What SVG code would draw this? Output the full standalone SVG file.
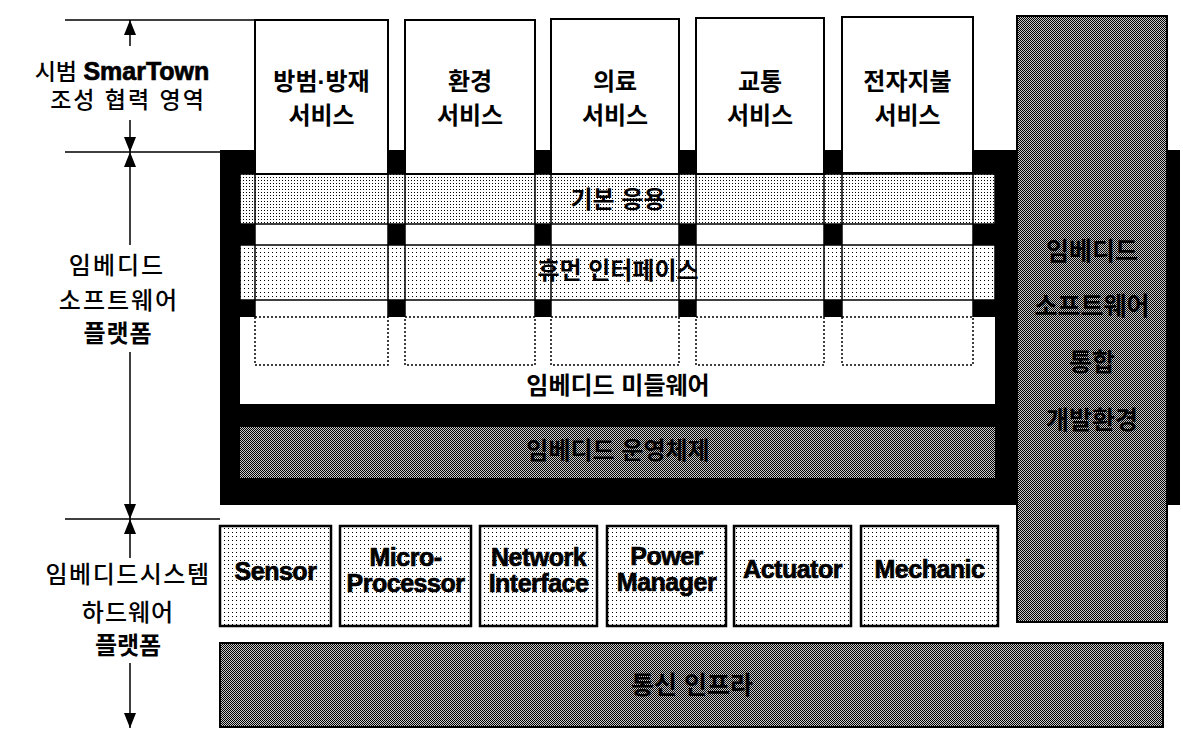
<svg xmlns="http://www.w3.org/2000/svg" width="1183" height="730" viewBox="0 0 1183 730">
<defs>
<pattern id="dk" width="2" height="2" patternUnits="userSpaceOnUse"><rect width="2" height="2" fill="#c8c8c8"/><rect width="1" height="1" fill="#000"/><rect x="1" y="1" width="1" height="1" fill="#000"/></pattern>
<pattern id="lt3" width="3" height="3" patternUnits="userSpaceOnUse"><rect width="3" height="3" fill="#fff"/><rect width="1" height="1" fill="#000"/></pattern>
<pattern id="lt4" width="4" height="4" patternUnits="userSpaceOnUse"><rect width="4" height="4" fill="#fff"/><rect width="1" height="1" fill="#000"/></pattern>
<marker id="ah" markerUnits="userSpaceOnUse" markerWidth="15" markerHeight="12" refX="15" refY="6" orient="auto"><path d="M0,0 L15,6 L0,12 z" fill="#000"/></marker>
<style>
text{font-family:'Liberation Sans','Noto Sans CJK KR',sans-serif;fill:#000;text-anchor:middle}
.k{font-size:24px;font-weight:700}
.lbl{font-size:24px;font-weight:500}
.hw{font-size:25px;font-weight:700;letter-spacing:-0.5px;stroke:#000;stroke-width:0.7}
.box{stroke:#000;stroke-width:2}
.svc{fill:#fff;stroke:#000;stroke-width:2}
.hwbox{fill:url(#lt4);stroke:#000;stroke-width:2.5}
.bar{stroke:#000;stroke-width:1.5}
.cl{stroke:#000;stroke-width:1.5}
.dash{fill:none;stroke:#000;stroke-width:1.5;stroke-dasharray:2 2}
.ln{stroke:#000;stroke-width:1.5;fill:none}
</style>
</defs>
<rect width="1183" height="730" fill="#fff"/>

<g id="sw-frame">
<rect x="220" y="150" width="960" height="355" fill="#000"/>
<rect x="255" y="150" width="133" height="167" fill="#fff"/>
<rect x="405" y="150" width="130" height="167" fill="#fff"/>
<rect x="551" y="150" width="128" height="167" fill="#fff"/>
<rect x="696" y="150" width="128" height="167" fill="#fff"/>
<rect x="842" y="150" width="131" height="167" fill="#fff"/>
</g>

<g id="basic-app">
<rect class="bar" x="240" y="174" width="755" height="50" fill="url(#lt3)"/>
<text class="k" x="618" y="208">기본 응용</text>
</g>

<g id="human-interface">
<rect class="bar" x="240" y="245" width="755" height="55" fill="url(#lt4)"/>
<text class="k" x="618" y="279">휴먼 인터페이스</text>
</g>

<g id="middleware">
<rect x="240" y="317" width="755" height="87" fill="#fff"/>
<rect class="dash" x="255" y="317" width="133" height="48"/>
<rect class="dash" x="405" y="317" width="130" height="48"/>
<rect class="dash" x="551" y="317" width="128" height="48"/>
<rect class="dash" x="696" y="317" width="128" height="48"/>
<rect class="dash" x="842" y="317" width="131" height="48"/>
<text class="k" x="618" y="394">임베디드 미들웨어</text>
</g>

<g id="column-lines">
<path class="cl" d="M255,174V317M388,174V317M405,174V317M535,174V317M551,174V317M679,174V317M696,174V317M824,174V317M842,174V317M973,174V317"/>
</g>

<g id="svc-safety">
<rect class="svc" x="255" y="20" width="133" height="154"/>
<text class="k" x="321.5" y="90">방범·방재</text>
<text class="k" x="321.5" y="124">서비스</text>
</g>
<g id="svc-env">
<rect class="svc" x="405" y="20" width="130" height="154"/>
<text class="k" x="470" y="90">환경</text>
<text class="k" x="470" y="124">서비스</text>
</g>
<g id="svc-medical">
<rect class="svc" x="551" y="19" width="128" height="155"/>
<text class="k" x="615" y="90">의료</text>
<text class="k" x="615" y="124">서비스</text>
</g>
<g id="svc-traffic">
<rect class="svc" x="696" y="18" width="128" height="156"/>
<text class="k" x="760" y="90">교통</text>
<text class="k" x="760" y="124">서비스</text>
</g>
<g id="svc-payment">
<rect class="svc" x="842" y="17" width="131" height="156"/>
<text class="k" x="907.5" y="90">전자지불</text>
<text class="k" x="907.5" y="124">서비스</text>
</g>

<g id="embedded-os">
<rect x="240" y="427" width="755" height="51" fill="url(#dk)"/>
<text class="k" x="618" y="459">임베디드 운영체제</text>
</g>

<g id="ide">
<rect class="box" x="1017" y="16" width="150" height="606" fill="url(#dk)"/>
<text class="k" x="1092" y="260" style="font-size:25px">임베디드</text>
<text class="k" x="1092" y="315" style="font-size:25px">소프트웨어</text>
<text class="k" x="1092" y="371" style="font-size:25px">통합</text>
<text class="k" x="1092" y="429" style="font-size:25px">개발환경</text>
</g>

<g id="hw-sensor">
<rect class="hwbox" x="220" y="526" width="111" height="100"/>
<text class="hw" x="275.5" y="580">Sensor</text>
</g>
<g id="hw-micro">
<rect class="hwbox" x="340" y="526" width="131" height="100"/>
<text class="hw" x="405.5" y="566">Micro-</text>
<text class="hw" x="405.5" y="592">Processor</text>
</g>
<g id="hw-network">
<rect class="hwbox" x="480" y="526" width="117" height="100"/>
<text class="hw" x="538.5" y="566">Network</text>
<text class="hw" x="538.5" y="592">Interface</text>
</g>
<g id="hw-power">
<rect class="hwbox" x="607" y="526" width="119" height="100"/>
<text class="hw" x="666.5" y="565">Power</text>
<text class="hw" x="666.5" y="591">Manager</text>
</g>
<g id="hw-actuator">
<rect class="hwbox" x="734" y="526" width="117" height="100"/>
<text class="hw" x="792.5" y="578">Actuator</text>
</g>
<g id="hw-mechanic">
<rect class="hwbox" x="861" y="526" width="137" height="100"/>
<text class="hw" x="929.5" y="578">Mechanic</text>
</g>

<g id="comm-infra">
<rect class="box" x="220" y="643" width="943" height="84" fill="url(#dk)"/>
<text class="k" x="692" y="694" style="font-size:25px">통신 인프라</text>
</g>

<g id="label-smartown">
<text x="122" y="80" style="font-size:23px;font-weight:500">시범 <tspan style="font-weight:700;font-size:25px;stroke:#000;stroke-width:0.7">SmarTown</tspan></text>
<text x="128" y="108" style="font-size:23px;font-weight:500;letter-spacing:2px">조성 협력 영역</text>
</g>
<g id="label-sw-platform">
<text class="lbl" x="117" y="274" style="letter-spacing:2px">임베디드</text>
<text class="lbl" x="119" y="309" style="letter-spacing:2px">소프트웨어</text>
<text class="lbl" x="118" y="342" style="font-weight:700;letter-spacing:1px">플랫폼</text>
</g>
<g id="label-hw-platform">
<text class="lbl" x="128" y="583" style="letter-spacing:1.5px">임베디드시스템</text>
<text class="lbl" x="128" y="621" style="letter-spacing:1px">하드웨어</text>
<text class="lbl" x="128" y="654" style="font-weight:700">플랫폼</text>
</g>

<g id="connectors">
<path class="ln" d="M65,20H255M65,152H220M65,519H220"/>
<line class="ln" x1="130" y1="46" x2="130" y2="20" marker-end="url(#ah)"/>
<line class="ln" x1="130" y1="120" x2="130" y2="152" marker-end="url(#ah)"/>
<line class="ln" x1="130" y1="245" x2="130" y2="152" marker-end="url(#ah)"/>
<line class="ln" x1="130" y1="352" x2="130" y2="519" marker-end="url(#ah)"/>
<line class="ln" x1="130" y1="558" x2="130" y2="519" marker-end="url(#ah)"/>
<line class="ln" x1="130" y1="663" x2="130" y2="728" marker-end="url(#ah)"/>
</g>
</svg>
